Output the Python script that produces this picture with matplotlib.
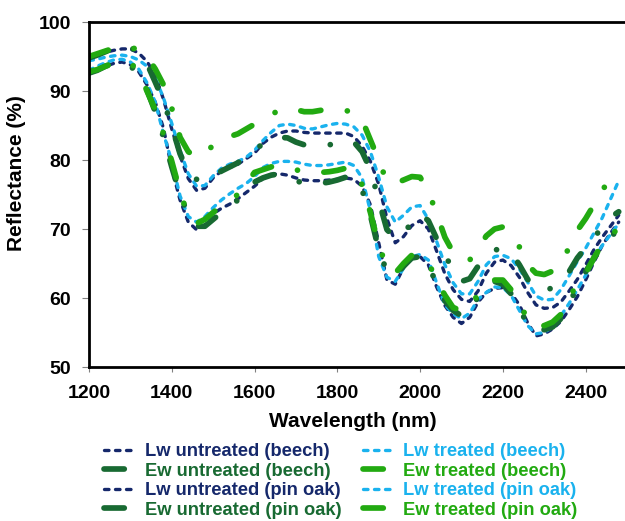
import matplotlib
matplotlib.use('Agg')
from matplotlib import pyplot as plt
import numpy as np

# wavelength grid (nm), every 20 nm
wavelength = np.arange(1200, 2481, 20)

# upper family (beech)
lw_untreated_beech = [94.9, 95.2, 95.6, 95.9, 96.1, 96.1, 95.5, 94.3, 92.3, 88.8,
                      84.5, 80.6, 77.3, 75.6, 75.9, 77.4, 78.4, 78.9, 79.4, 80.2,
                      81.0, 82.4, 83.3, 83.9, 84.2, 84.2, 84.0, 83.9, 83.9, 83.9,
                      83.9, 83.9, 83.4, 82.0, 79.8, 76.5, 71.5, 68.0, 68.9, 70.5,
                      71.2, 70.0, 66.8, 63.5, 61.2, 59.8, 59.5, 61.0, 63.6, 65.2,
                      65.5, 64.7, 63.0, 60.8, 59.0, 58.5, 58.6, 59.4, 61.0, 62.7,
                      64.8, 67.0, 68.8, 70.4, 72.0]
lw_treated_beech = [94.4, 94.6, 94.9, 95.1, 95.2, 95.0, 94.5, 93.6, 91.9, 89.0,
                    85.3, 81.4, 78.0, 76.2, 76.3, 77.7, 78.8, 79.4, 79.8, 80.4,
                    81.4, 82.8, 84.0, 85.0, 85.2, 85.0, 84.6, 84.5, 84.8, 85.1,
                    85.3, 85.2, 84.8, 83.6, 81.2, 77.5, 73.2, 71.0, 72.0, 73.2,
                    73.4, 71.4, 68.2, 64.8, 62.2, 60.6, 60.6, 62.4, 64.8, 66.0,
                    66.2, 65.7, 64.2, 62.3, 60.3, 59.7, 59.8, 61.2, 63.2, 65.3,
                    67.2, 69.4, 71.6, 74.3, 77.0]
ew_untreated_beech = [94.8, 95.2, 95.7, 96.2, 96.6, 96.4, 95.4, 94.0, 91.3, 88.5,
                      84.9, 80.9, 78.2, 77.2, 77.0, 77.6, 78.4, 79.0, 79.6, 80.7,
                      81.5, 82.3, 82.9, 83.3, 83.2, 82.6, 82.2, 82.1, 82.1, 82.2,
                      82.4, 82.7, 82.6, 81.2, 78.6, 74.2, 69.9, 68.7, 69.3, 71.0,
                      72.2, 71.2, 68.6, 66.4, 63.8, 62.4, 62.8, 64.6, 66.2, 67.0,
                      67.0, 66.6, 64.8, 62.7, 61.4, 61.0, 61.5, 62.5, 63.8, 65.8,
                      67.3, 68.7, 70.3, 71.7, 72.5]
ew_treated_beech = [95.0, 95.4, 95.8, 96.2, 96.5, 96.4, 95.9, 95.0, 93.2, 90.9,
                    87.5, 83.3, 81.2, 80.4, 80.8, 82.2, 83.1, 83.4, 83.8, 84.5,
                    85.2, 85.8, 86.6, 87.2, 87.5, 87.3, 87.0, 87.0, 87.2, 87.4,
                    87.4, 87.2, 86.8, 85.8, 82.9, 80.0, 76.8, 76.6, 77.1, 77.6,
                    77.5, 75.5, 72.2, 68.8, 66.6, 65.6, 65.5, 67.2, 69.0, 70.0,
                    70.3, 69.2, 67.4, 64.8, 63.6, 63.4, 63.9, 65.4, 67.2, 69.8,
                    71.5, 73.5, 75.6, 77.3, 78.5]

# lower family (pin oak)
lw_untreated_pinoak = [92.5, 93.0, 93.6, 94.0, 94.2, 93.8, 92.8, 90.9, 88.4, 84.6,
                       78.8, 74.2, 71.0, 69.9, 70.6, 72.2, 73.0, 73.6, 74.4, 75.3,
                       76.2, 77.3, 77.9, 78.0, 77.8, 77.4, 77.1, 77.0, 77.0, 77.1,
                       77.2, 77.4, 77.2, 76.2, 73.5, 68.0, 62.6, 62.0, 64.4, 65.8,
                       66.0, 64.8, 61.6, 58.9, 57.2, 56.3, 57.2, 59.4, 60.8, 61.4,
                       61.5, 60.7, 59.0, 56.4, 54.5, 54.8, 55.5, 56.6, 58.3, 60.2,
                       62.6, 65.2, 67.6, 69.4, 71.0]
lw_treated_pinoak = [93.0, 93.6, 94.1, 94.5, 94.6, 94.2, 93.2, 91.2, 88.4, 83.8,
                     79.8, 74.8, 71.8, 71.0, 71.8, 73.1, 74.2, 75.1, 75.9, 76.6,
                     77.6, 78.9, 79.5, 79.8, 79.8, 79.7, 79.4, 79.2, 79.2, 79.3,
                     79.5, 79.7, 79.2, 77.4, 72.6, 66.0, 63.0, 62.4, 64.3, 66.0,
                     66.3, 65.5, 62.2, 59.0, 57.7, 57.0, 57.8, 59.8, 60.8, 61.6,
                     61.5, 60.4, 58.2, 56.0, 54.8, 55.0, 55.8, 57.4, 59.2, 61.2,
                     63.3, 65.7, 67.6, 69.2, 70.8]
ew_untreated_pinoak = [92.6, 93.0, 93.6, 94.0, 94.2, 93.6, 92.5, 90.2, 87.0, 83.3,
                       79.0, 75.0, 72.0, 70.4, 70.4, 71.4, 72.4, 73.3, 74.2, 75.8,
                       76.8, 77.4, 77.8, 78.0, 77.6, 77.0, 76.6, 76.5, 76.6, 76.8,
                       77.1, 77.5, 77.4, 75.6, 72.0, 67.0, 63.8, 63.2, 64.6, 65.8,
                       66.0, 64.8, 62.0, 59.6, 58.2, 57.4, 58.0, 60.2, 61.8, 62.4,
                       62.0, 60.6, 58.4, 56.2, 55.3, 55.4, 55.8, 57.0, 59.2, 61.6,
                       63.8, 65.8, 67.4, 68.8, 70.0]
ew_treated_pinoak = [92.8, 93.1, 93.6, 94.1, 94.3, 94.0, 93.0, 90.0, 87.3, 83.8,
                     79.8, 75.4, 71.8, 70.8, 71.4, 72.4, 73.3, 74.2, 75.0, 76.6,
                     78.2, 78.6, 79.0, 79.2, 79.0, 78.6, 78.2, 78.1, 78.2, 78.3,
                     78.5, 78.8, 78.6, 76.4, 72.4, 67.6, 64.5, 63.6, 65.0, 66.2,
                     66.1, 65.2, 62.5, 60.4, 58.6, 58.2, 58.5, 60.6, 62.1, 62.6,
                     62.6, 61.2, 59.4, 56.8, 55.9, 56.0, 56.5, 57.6, 59.7, 62.4,
                     63.5, 65.8, 67.8, 69.2, 70.0]

navy = '#15286b'
dkgreen = '#186a32'
ltblue = '#1ab2ee'
green = '#22aa11'

matplotlib.rcParams.update({'font.family': 'Liberation Sans',
                            'font.weight': 'bold',
                            'font.size': 14})

fig = plt.figure(figsize=(6.25, 5.21), dpi=100)
ax = fig.add_axes([89/625, 1-367/521, 538/625, 345/521])

lw_style = dict(lw=2.4, dashes=(1.35, 1.95), dash_capstyle='round')
ew_style = dict(lw=4.1, dashes=(3.56, 4.7, 0.01, 4.7), dash_capstyle='round')

# drawn in the original series order
series = [
    (lw_untreated_beech, navy, lw_style, 'Lw untreated (beech)'),
    (lw_treated_beech, ltblue, lw_style, 'Lw treated (beech)'),
    (ew_untreated_beech, dkgreen, ew_style, 'Ew untreated (beech)'),
    (ew_treated_beech, green, ew_style, 'Ew treated (beech)'),
    (lw_untreated_pinoak, navy, lw_style, 'Lw untreated (pin oak)'),
    (lw_treated_pinoak, ltblue, lw_style, 'Lw treated (pin oak)'),
    (ew_untreated_pinoak, dkgreen, ew_style, 'Ew untreated (pin oak)'),
    (ew_treated_pinoak, green, ew_style, 'Ew treated (pin oak)'),
]
lines = {}
for vals, col, style, name in series:
    l, = ax.plot(wavelength, vals, color=col, label=name, **style)
    lines[name] = l

ax.set_xlim(1200, 2500)
ax.set_ylim(50, 100)
ax.set_xticks(range(1200, 2401, 200))
ax.set_yticks(range(50, 101, 10))
ax.tick_params(axis='x', direction='out', length=3.6, width=0.8, color='#808080', pad=9, labelsize=14)
ax.tick_params(axis='y', direction='out', length=4.8, width=0.8, color='#808080', pad=8, labelsize=14)
for s in ['left', 'bottom', 'top']:
    ax.spines[s].set_linewidth(2)
    ax.spines[s].set_color('k')
ax.spines['right'].set_visible(False)

fig.text(16.5/625, 1-173.5/521, 'Reflectance (%)', rotation=90, ha='center', va='center',
         fontsize=15, weight='bold')
fig.text(353/625, 1-427/521, 'Wavelength (nm)', ha='center', va='baseline',
         fontsize=15, weight='bold')

# legend fills column-wise: untreated left, treated right
order = ['Lw untreated (beech)', 'Ew untreated (beech)', 'Lw untreated (pin oak)', 'Ew untreated (pin oak)',
         'Lw treated (beech)', 'Ew treated (beech)', 'Lw treated (pin oak)', 'Ew treated (pin oak)']
ax.legend([lines[n] for n in order], order, ncol=2, loc='center left',
          bbox_to_anchor=(104.5/625, 1-481/521), bbox_transform=fig.transFigure,
          frameon=False, handlelength=1.78, handletextpad=0.43,
          columnspacing=1.15, labelspacing=0.13, borderpad=0, borderaxespad=0,
          labelcolor='linecolor', prop={'weight': 'bold', 'size': 13.2})

plt.savefig('out.png', dpi=100)
